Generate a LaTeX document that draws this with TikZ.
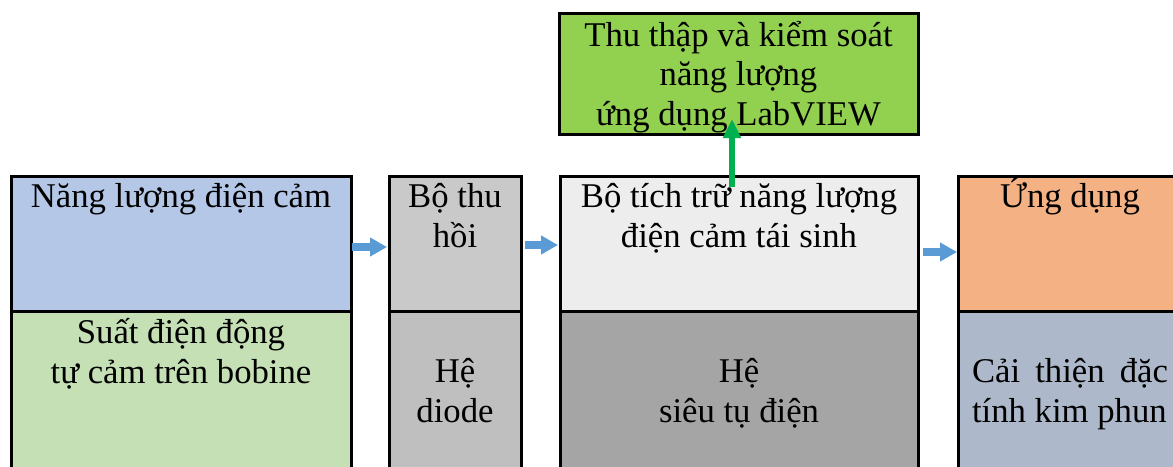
\documentclass[tikz,border=0pt]{standalone}
\usepackage{fontspec}
\setmainfont{Liberation Serif}
\usetikzlibrary{arrows.meta}
\definecolor{energytop}{HTML}{B4C7E7}
\definecolor{energybot}{HTML}{C5E0B4}
\definecolor{recovtop}{HTML}{C9C9C9}
\definecolor{recovbot}{HTML}{BFBFBF}
\definecolor{storetop}{HTML}{EDEDED}
\definecolor{storebot}{HTML}{A5A5A5}
\definecolor{apptop}{HTML}{F4B183}
\definecolor{appbot}{HTML}{ADB9CA}
\definecolor{daqfill}{HTML}{92D050}
\definecolor{flowblue}{HTML}{5B9BD5}
\definecolor{upgreen}{HTML}{00B050}
\begin{document}
\begin{tikzpicture}[x=1pt,y=-1pt,
  cell/.style={draw=black, line width=3pt, inner sep=0pt, outer sep=0pt, anchor=north west},
  % base anchor of a multi-line label sits on its last line
  txt/.style={align=center, inner sep=0pt, anchor=base, font=\fontsize{34.7}{39.5}\selectfont},
  flow/.style={draw=flowblue, line width=8pt, -{Triangle[length=17pt,width=18pt]}},
  upflow/.style={draw=upgreen, line width=6pt, -{Triangle[length=19pt,width=17pt]}}]
\useasboundingbox (0,0) rectangle (1173,466);
\clip (0,0) rectangle (1173,466);

% column 1: inductive energy
\node[cell, fill=energytop, minimum width=340pt, minimum height=135pt] (t1) at (11,176) {};
\node[cell, fill=energybot, minimum width=340pt, minimum height=170pt] (b1) at (11,311) {};
% column 2: recovery stage
\node[cell, fill=recovtop, minimum width=132pt, minimum height=135pt] (t2) at (389,176) {};
\node[cell, fill=recovbot, minimum width=132pt, minimum height=170pt] (b2) at (389,311) {};
% column 3: storage stage
\node[cell, fill=storetop, minimum width=358pt, minimum height=135pt] (t3) at (560,176) {};
\node[cell, fill=storebot, minimum width=358pt, minimum height=170pt] (b3) at (560,311) {};
% column 4: application
\node[cell, fill=apptop, minimum width=224pt, minimum height=135pt] (t4) at (958,176) {};
\node[cell, fill=appbot, minimum width=224pt, minimum height=170pt] (b4) at (958,311) {};
% acquisition and control block
\node[cell, fill=daqfill, minimum width=359pt, minimum height=121pt] (daq) at (559,13) {};

% labels
\node[txt] at ([shift={(0,31)}]t1.north) {Năng lượng điện cảm};
\node[txt] at ([shift={(0,72)}]b1.north) {Suất điện động\\tự cảm trên bobine};
\node[txt] at ([shift={(0,71)}]t2.north) {Bộ thu\\hồi};
\node[txt] at ([shift={(0,111)}]b2.north) {Hệ\\diode};
\node[txt] at ([shift={(0,71)}]t3.north) {Bộ tích trữ năng lượng\\điện cảm tái sinh};
\node[txt] at ([shift={(0,111)}]b3.north) {Hệ\\siêu tụ điện};
\node[txt] at ([shift={(0,31)}]t4.north) {Ứng dụng};
\node[txt, align=left] at ([shift={(0,111)}]b4.north) {\makebox[196pt][s]{Cải thiện đặc}\\tính kim phun};
\node[txt] at ([shift={(0,112)}]daq.north) {Thu thập và kiểm soát\\năng lượng\\ứng dụng LabVIEW};

% connectors
\draw[flow] ([shift={(1,3.5)}]t1.east) -- ([shift={(-2,3.5)}]t2.west);
\draw[flow] ([shift={(4,1.5)}]t2.east) -- ([shift={(-2,1.5)}]t3.west);
\draw[flow] ([shift={(5,8.5)}]t3.east) -- ([shift={(-1,8.5)}]t4.west);
\draw[upflow] ([shift={(-7,11)}]t3.north) -- ([shift={(-6.5,-15)}]daq.south);
\end{tikzpicture}
\end{document}
